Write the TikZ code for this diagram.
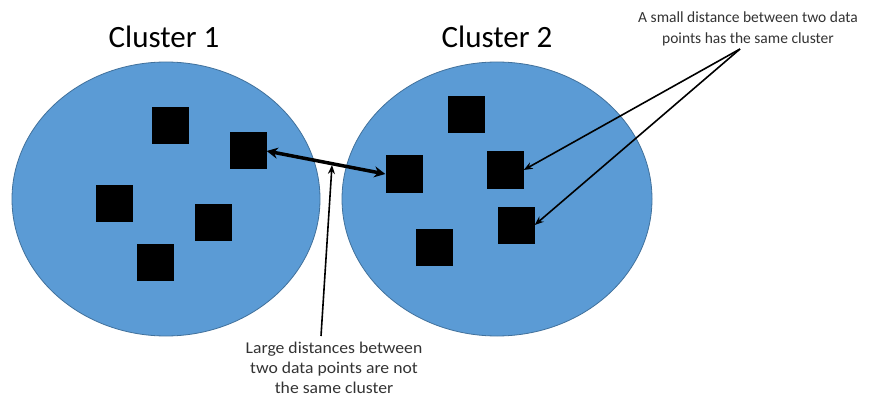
\documentclass[tikz,border=0pt]{standalone}
\usepackage{fontspec}
\setmainfont{Carlito}
\newfontfamily\widenote[FakeStretch=1.07]{Carlito}
\usetikzlibrary{arrows.meta}
\begin{document}
\begin{tikzpicture}[x=1pt,y=-1pt,
  cluster/.style={fill=clusterblue,draw=clusterline,line width=0.8pt},
  pt/.style={fill=black,draw=none,minimum size=37pt,inner sep=0pt,rectangle},
  title/.style={font=\fontsize{31}{34}\selectfont,inner sep=0pt},
  note/.style={font=\fontsize{15.5}{21}\selectfont,align=center,inner sep=0pt,text=black!80},
  bignote/.style={font=\widenote\fontsize{16.5}{20}\selectfont,align=center,inner sep=0pt,text=black!80},
  conn/.style={line width=1.6pt,-{Stealth[length=9pt,width=7pt]}},
  bigconn/.style={line width=3.5pt,{Stealth[length=11pt,width=11pt]}-{Stealth[length=11pt,width=11pt]}}]
\definecolor{clusterblue}{HTML}{5B9BD5}
\definecolor{clusterline}{HTML}{41719C}
\useasboundingbox (0,0) rectangle (893,398);
\fill[white] (0,0) rectangle (893,398);
\draw[cluster] (166,199) ellipse [x radius=154, y radius=137];
\draw[cluster] (497,199) ellipse [x radius=155, y radius=137];
\node[title] (t1) at (164,37) {Cluster 1};
\node[title] (t2) at (497,37) {Cluster 2};
% cluster 1 points
\node[pt] (a1) at (170,126) {};
\node[pt] (a2) at (248,151) {};
\node[pt] (a3) at (114,203) {};
\node[pt] (a4) at (213,222) {};
\node[pt] (a5) at (155,262) {};
% cluster 2 points
\node[pt] (b1) at (466,115) {};
\node[pt] (b2) at (404,174) {};
\node[pt] (b3) at (505,170) {};
\node[pt] (b4) at (516,225) {};
\node[pt] (b5) at (434,247) {};
\draw[bigconn] (a2.east) -- (b2.west);
\node[bignote] (large) at (334,368) {Large distances between\\two data points are not\\the same cluster};
\coordinate (lstart) at (321,336);
\coordinate (ltip) at (332,165);
\draw[conn] (lstart) -- (ltip);
\node[note] (small) at (748,29) {A small distance between two data\\points has the same cluster};
\coordinate (sorig) at (740,49);
\draw[conn] (sorig) -- (b3.east);
\draw[conn] (sorig) -- (b4.east);
\end{tikzpicture}
\end{document}
